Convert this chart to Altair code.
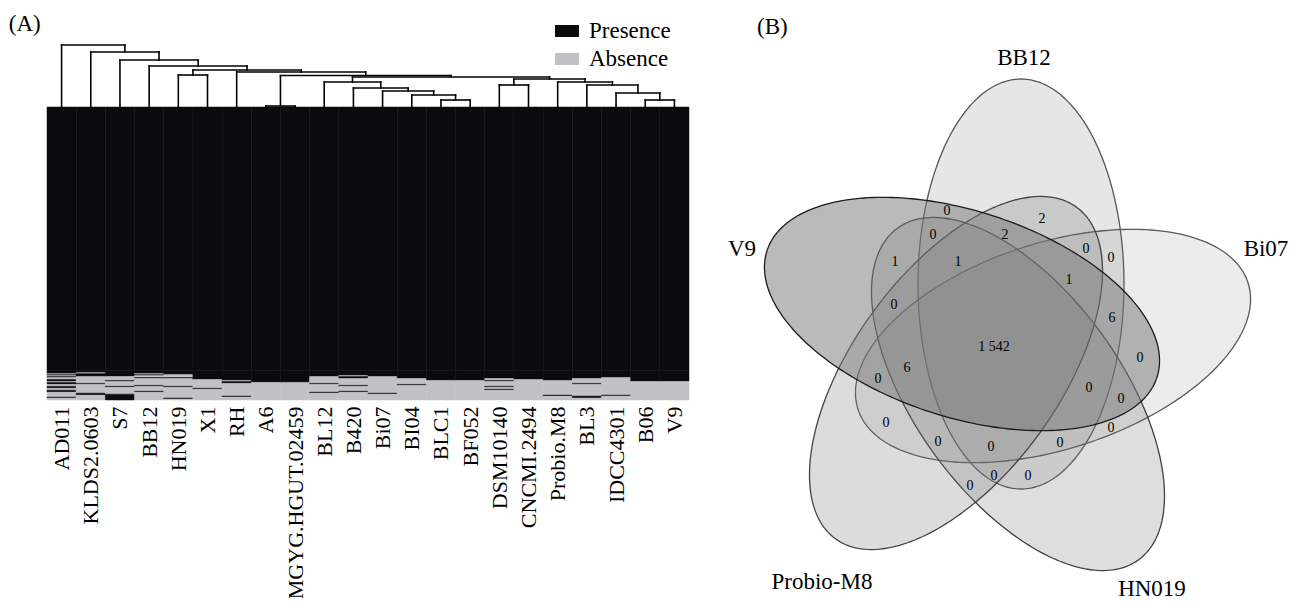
import math
import altair as alt
import pandas as pd

FONT = "Liberation Serif"

# ---------------- data: panel A ----------------
strains = ["AD011", "KLDS2.0603", "S7", "BB12", "HN019", "X1", "RH", "A6",
           "MGYG.HGUT.02459", "BL12", "B420", "Bi07", "BI04", "BLC1", "BF052",
           "DSM10140", "CNCMI.2494", "Probio.M8", "BL3", "IDCC4301", "B06", "V9"]

core_rows = 270  # gene clusters present in every strain (top block)
# presence (1) / absence (0) of the remaining 30 accessory gene clusters, per strain
accessory = [
    "111010100110110011001100000100",  # AD011
    "110111000000010000000001100000",  # KLDS2.0603
    "111111000010000010000000111111",  # S7
    "111010010000000100000100000000",  # BB12
    "111100010000000010000000000010",  # HN019
    "111111111000000000100000000000",  # X1
    "111111111101100000000000001000",  # RH
    "111111111111000000000000000000",  # A6
    "111111111111000000000000000000",  # MGYG.HGUT.02459
    "111111000000010000000010000000",  # BL12
    "111110110000000100000100000000",  # B420
    "111111000000000000000001000000",  # Bi07
    "111111110000001000000000000000",  # BI04
    "111111111100000000000000000000",  # BLC1
    "111111111100000000000000000000",  # BF052
    "111111110010000010010000000000",  # DSM10140
    "111111111000000000000000000000",  # CNCMI.2494
    "111111111100000000000000010000",  # Probio.M8
    "111111110000010000000000001100",  # BL3
    "111111100000000000000000010000",  # IDCC4301
    "111111111110000000000000000000",  # B06
    "111111111110000000000000000000",  # V9
]

# dendrogram merges: (node, left child, right child, height)
merges = [
    ("a", "A6", "MGYG.HGUT.02459", 0.016),
    ("b", "BLC1", "BF052", 0.113),
    ("c", "BI04", "b", 0.194),
    ("d", "Bi07", "c", 0.258),
    ("e", "B420", "d", 0.306),
    ("f", "BL12", "e", 0.403),
    ("r1", "B06", "V9", 0.113),
    ("r2", "IDCC4301", "r1", 0.226),
    ("r3", "BL3", "r2", 0.355),
    ("r4", "Probio.M8", "r3", 0.403),
    ("r5", "DSM10140", "CNCMI.2494", 0.355),
    ("r6", "r5", "r4", 0.452),
    ("q", "f", "r6", 0.484),
    ("g", "a", "q", 0.508),
    ("hx", "HN019", "X1", 0.516),
    ("n6", "RH", "g", 0.565),
    ("n5", "hx", "n6", 0.597),
    ("n4", "BB12", "n5", 0.661),
    ("n3", "S7", "n4", 0.758),
    ("n2", "KLDS2.0603", "n3", 0.887),
    ("n1", "AD011", "n2", 1.000),
]

# ---------------- data: panel B ----------------
venn_sets = ["BB12", "Bi07", "HN019", "Probio-M8", "V9"]
venn_counts = [0, 2, 0, 2, 0, 0, 1, 1, 1, 0, 6, 1542, 0, 6, 0,
               0, 0, 0, 0, 0, 0, 0, 0, 0, 0]

# ---------------- geometry / layout (not data) ----------------
n_acc = len(accessory[0])
total_rows = core_rows + n_acc
DENDRO_SPAN = 63.5  # rows of vertical space used by dendrogram

# Venn ellipses: center (x, y), major-axis angle (deg); y up, local units = px
ell_a, ell_b = 205.0, 103.0
ell_geom = {
    "BB12": (14, 58, 90),
    "Bi07": (46, -4, 18),
    "HN019": (11, -52, -54),
    "Probio-M8": (-51, -31, 54),
    "V9": (-45, 28, 162),
}
ell_style = {  # fill opacity, stroke colour
    "BB12": (0.18, "#555555"),
    "Bi07": (0.14, "#5a5a5a"),
    "HN019": (0.24, "#404040"),
    "Probio-M8": (0.26, "#444444"),
    "V9": (0.51, "#1c1c1c"),
}
set_label_pos = {
    "BB12": (17, 284), "Bi07": (259, 93), "HN019": (145, -247),
    "Probio-M8": (-185, -240), "V9": (-265, 93),
}
count_pos = [(-60, 131), (35, 123), (-74, 107), (-2, 107), (79, 93), (104, 84),
             (-112, 80), (-49, 80), (62, 62), (-113, 37), (105, 24), (-13, -5),
             (133, -16), (-100, -26), (-129, -37), (82, -46), (114, -57),
             (-121, -81), (104, -86), (-69, -100), (-16, -105), (53, -101),
             (-13, -134), (21, -134), (-37, -144)]

# ---------------- build tables ----------------
heat_rows = []
for k, s in enumerate(strains):
    heat_rows.append(dict(strain=s, x0=k, x1=k + 1, y0=0, y1=core_rows, status="Presence"))
    pat = accessory[k]
    start = 0
    for i in range(1, n_acc + 1):
        if i == n_acc or pat[i] != pat[start]:
            heat_rows.append(dict(strain=s, x0=k, x1=k + 1,
                                  y0=core_rows + start, y1=core_rows + i,
                                  status="Presence" if pat[start] == "1" else "Absence"))
            start = i
heat_df = pd.DataFrame(heat_rows)

pos = {s: k + 0.5 for k, s in enumerate(strains)}
hgt = {s: 0.0 for s in strains}
seg = []
for node, l, r, h in merges:
    pos[node] = (pos[l] + pos[r]) / 2
    hgt[node] = h
    seg.append(dict(x=pos[l], x2=pos[r], y=-DENDRO_SPAN * h, y2=-DENDRO_SPAN * h))
    seg.append(dict(x=pos[l], x2=pos[l], y=-DENDRO_SPAN * hgt[l], y2=-DENDRO_SPAN * h))
    seg.append(dict(x=pos[r], x2=pos[r], y=-DENDRO_SPAN * hgt[r], y2=-DENDRO_SPAN * h))
dend_df = pd.DataFrame(seg)

xscale = alt.Scale(domain=[0, len(strains)], nice=False, zero=False)
yscale = alt.Scale(domain=[-DENDRO_SPAN, total_rows], nice=False, zero=False, reverse=True)
label_expr = "[" + ",".join("'%s'" % s for s in strains) + "][floor(datum.value)]"
x_axis = alt.Axis(values=[k + 0.5 for k in range(len(strains))], labelExpr=label_expr,
                  labelAngle=270, labelFont=FONT, labelFontSize=22, labelColor="black",
                  labelPadding=6, ticks=False, domain=False, grid=False, title=None,
                  labelOverlap=False, labelLimit=400)

status_domain = ["Presence", "Absence"]
status_range = ["#0b0b0d", "#c2c2c6"]

heat = alt.Chart(heat_df).mark_rect(strokeWidth=0.5).encode(
    x=alt.X("x0:Q", scale=xscale, axis=x_axis),
    x2="x1:Q",
    y=alt.Y("y0:Q", scale=yscale, axis=None),
    y2="y1:Q",
    color=alt.Color("status:N",
                    scale=alt.Scale(domain=status_domain, range=status_range),
                    legend=alt.Legend(title=None, orient="none", legendX=508, legendY=-26,
                                      symbolType="M-1,-0.5H1V0.5H-1Z", symbolSize=576,
                                      symbolStrokeWidth=0, labelFont=FONT, labelFontSize=23,
                                      labelColor="black", labelOffset=10, rowPadding=4,
                                      padding=0)),
    stroke=alt.Stroke("status:N", scale=alt.Scale(domain=status_domain, range=status_range),
                      legend=None),
)

dend = alt.Chart(dend_df).mark_rule(color="black", strokeWidth=1.6, strokeCap="square").encode(
    x=alt.X("x:Q", scale=xscale, axis=x_axis),
    x2="x2:Q",
    y=alt.Y("y:Q", scale=yscale, axis=None),
    y2="y2:Q",
)

left = alt.layer(heat, dend).properties(
    width=642, height=355,
    title=alt.TitleParams("(A)", anchor="start", dx=-38, font=FONT, fontSize=23,
                          fontWeight="normal", color="black", offset=8),
)

# ---------------- Venn ----------------
vx = alt.Scale(domain=[-285, 283], nice=False, zero=False)
vy = alt.Scale(domain=[-260, 297], nice=False, zero=False)

venn_layers = []
for s in venn_sets:
    cx, cy, ang = ell_geom[s]
    th = math.radians(ang)
    pts = []
    for i in range(241):
        t = 2 * math.pi * i / 240
        x = cx + ell_a * math.cos(t) * math.cos(th) - ell_b * math.sin(t) * math.sin(th)
        y = cy + ell_a * math.cos(t) * math.sin(th) + ell_b * math.sin(t) * math.cos(th)
        pts.append(dict(x=x, y=y, o=i))
    op, stc = ell_style[s]
    venn_layers.append(
        alt.Chart(pd.DataFrame(pts)).mark_line(
            fill="#777777", fillOpacity=op, stroke=stc, strokeWidth=1.3, interpolate="linear"
        ).encode(
            x=alt.X("x:Q", scale=vx, axis=None),
            y=alt.Y("y:Q", scale=vy, axis=None),
            order="o:Q",
        )
    )

cnt_df = pd.DataFrame(dict(
    x=[p[0] for p in count_pos], y=[p[1] for p in count_pos],
    label=[format(v, ",").replace(",", " ") for v in venn_counts]))
counts = alt.Chart(cnt_df).mark_text(font=FONT, fontSize=14, color="black").encode(
    x=alt.X("x:Q", scale=vx, axis=None), y=alt.Y("y:Q", scale=vy, axis=None), text="label:N")

lab_df = pd.DataFrame(dict(
    x=[set_label_pos[s][0] for s in venn_sets], y=[set_label_pos[s][1] for s in venn_sets],
    label=venn_sets))
setlabels = alt.Chart(lab_df).mark_text(font=FONT, fontSize=23, color="black").encode(
    x=alt.X("x:Q", scale=vx, axis=None), y=alt.Y("y:Q", scale=vy, axis=None), text="label:N")

venn = alt.layer(*venn_layers, counts, setlabels).properties(
    width=568, height=557,
    title=alt.TitleParams("(B)", anchor="start", dx=35, font=FONT, fontSize=23,
                          fontWeight="normal", color="black", offset=6),
)

chart = alt.hconcat(left, venn, spacing=32).properties(
    padding={"left": 0, "top": 4, "right": 0, "bottom": 0}
).configure_view(strokeWidth=0)

chart.save("out.html", embed_options={"renderer": "svg", "actions": False})
